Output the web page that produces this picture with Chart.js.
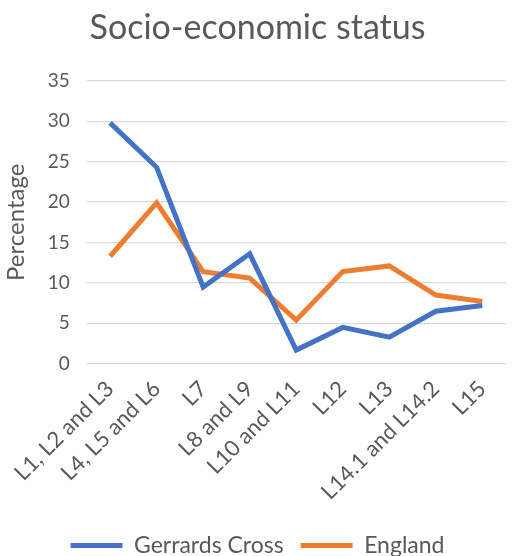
<!DOCTYPE html>
<html>
<head>
<meta charset="utf-8">
<script src="https://cdn.jsdelivr.net/npm/chart.js@4"></script>
<style>
  html, body { margin: 0; padding: 0; background: #fff; }
  #wrap { width: 513px; height: 556px; }
</style>
</head>
<body>
<div id="wrap"><canvas id="grafik"></canvas></div>
<script>
const categories = ['L1, L2 and L3', 'L4, L5 and L6', 'L7', 'L8 and L9', 'L10 and L11', 'L12', 'L13', 'L14.1 and L14.2', 'L15'];
const gerrardsCross = [29.8, 24.3, 9.5, 13.6, 1.7, 4.5, 3.3, 6.5, 7.2];
const england = [13.3, 19.9, 11.4, 10.6, 5.4, 11.4, 12.1, 8.5, 7.7];

const grey = '#595959';
const fontFamily = 'Lato, "Open Sans", sans-serif';

const config = {
    type: 'line',
    data: {
        labels: categories,
        datasets: [{
            label: 'Gerrards Cross',
            data: gerrardsCross,
            borderColor: '#4472C4',
            backgroundColor: '#4472C4',
            borderWidth: 5,
            pointRadius: 0,
            tension: 0
        }, {
            label: 'England',
            data: england,
            borderColor: '#ED7D31',
            backgroundColor: '#ED7D31',
            borderWidth: 5,
            pointRadius: 0,
            tension: 0
        }]
    },
    options: {
        responsive: true,
        maintainAspectRatio: false,
        animation: false,
        layout: { padding: { left: 2, right: 0, top: 6, bottom: -11 } }, // legend a bit lower
        plugins: {
            title: {
                display: true,
                text: 'Socio-economic status',
                color: grey,
                font: { family: fontFamily, size: 34, weight: 'normal' },
                padding: { top: 2, bottom: 32 }
            },
            legend: {
                position: 'bottom',
                labels: {
                    color: grey,
                    font: { family: fontFamily, size: 23 },
                    usePointStyle: true,
                    pointStyle: 'line',
                    pointStyleWidth: 52,
                    padding: 17
                }
            },
            tooltip: { enabled: false }
        },
        scales: {
            x: {
                offset: true,
                grid: { display: false, drawTicks: false },
                border: { display: false },
                ticks: {
                    color: grey,
                    font: { family: fontFamily, size: 22 },
                    maxRotation: 45,
                    minRotation: 45,
                    padding: 12,
                    autoSkip: false
                }
            },
            y: {
                min: 0,
                max: 35,
                grid: { color: '#d9d9d9', lineWidth: 1.3, drawTicks: false },
                border: { display: false },
                ticks: {
                    stepSize: 5,
                    color: grey,
                    font: { family: fontFamily, size: 19 },
                    padding: 17
                },
                title: {
                    display: true,
                    text: 'Percentage',
                    color: grey,
                    font: { family: fontFamily, size: 24 },
                    padding: 0
                }
            }
        }
    }
};

const ctx = document.getElementById('grafik').getContext('2d');
new Chart(ctx, config);
</script>
</body>
</html>
